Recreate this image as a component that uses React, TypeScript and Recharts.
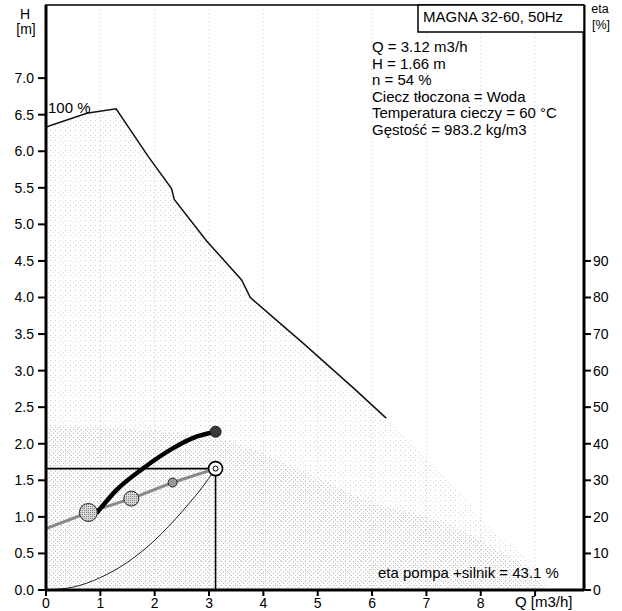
import { ComposedChart, Line, Area, XAxis, YAxis, CartesianGrid } from "recharts";

const FONT = "'Liberation Sans', Arial, sans-serif";

// axis ticks
const Q_TICKS = [0, 1, 2, 3, 4, 5, 6, 7, 8, 9];
const H_TICKS = [0, 0.5, 1, 1.5, 2, 2.5, 3, 3.5, 4, 4.5, 5, 5.5, 6, 6.5, 7];
const ETA_TICKS = [0, 10, 20, 30, 40, 50, 60, 70, 80, 90];

// max speed curve (100 %)
const maxQ = [0, 0.75, 1.29, 1.88, 2.31, 2.36, 2.96, 3.6, 3.76, 4.74, 5.66, 6.26];
const maxH = [6.33, 6.52, 6.58, 5.93, 5.49, 5.34, 4.77, 4.24, 4.0, 3.37, 2.76, 2.35];

// lower-right edge of the operating range
const edgeQ = [6.7, 7.38, 8.3, 8.97, 9.25];
const edgeH = [2.05, 1.5, 0.78, 0.37, 0];

// denser lower band
const bandQ = [0, 3, 4.5, 6, 7.4, 8.3, 9.0, 9.2];
const bandH = [2.25, 2.1, 1.7, 1.2, 0.9, 0.55, 0.2, 0];

// working curve at n = 54 %
const workQ = [0, 0.78, 1.57, 2.33, 3.12];
const workH = [0.84, 1.06, 1.25, 1.47, 1.66];

// markers on working curve
const markQ = [0.78, 1.57, 2.33];
const markH = [1.06, 1.25, 1.47];

// efficiency pump + motor (right axis)
const etaQ = [0.93, 1.3, 1.79, 2.34, 2.78, 3.12];
const etaV = [21, 27.4, 33.3, 38.8, 42, 43.3];

// system curve
const sysQ = [0, 0.5, 1, 1.5, 2, 2.5, 3, 3.12];
const sysH = [0, 0.04, 0.17, 0.38, 0.68, 1.07, 1.53, 1.66];

// duty point
const dutyQ = 3.12;
const dutyH = 1.66;

const infoLines = [
  "Q = 3.12 m3/h",
  "H = 1.66 m",
  "n = 54 %",
  "Ciecz tłoczona = Woda",
  "Temperatura cieczy = 60 °C",
  "Gęstość = 983.2 kg/m3",
];

const zip = (qs: number[], vs: number[], key = "h") =>
  qs.map((q, i) => ({ q, [key]: vs[i] }));

const shadeData = zip([...maxQ, ...edgeQ], [...maxH, ...edgeH]);
const bandData = zip(bandQ, bandH);
const maxData = zip(maxQ, maxH);
const workData = zip(workQ, workH);
const markData = zip(markQ, markH);
const etaData = zip(etaQ, etaV, "eta");
const sysData = zip(sysQ, sysH);
const dutyLines = zip([0, dutyQ, dutyQ], [dutyH, dutyH, 0]);
const dutyPoint = zip([dutyQ], [dutyH]);
const etaEnd = zip([etaQ[etaQ.length - 1]], [etaV[etaV.length - 1]], "eta");

const markRadius = [9, 7.5, 4.5];

const tickStyle = { fontSize: 14, fill: "#000", fontFamily: FONT };

export default function App() {
  return (
    <div
      style={{
        position: "absolute",
        left: 0,
        top: 0,
        width: 622,
        height: 611,
        background: "#fff",
      }}
    >
      <ComposedChart
        width={622}
        height={611}
        margin={{ top: 5, right: 0, bottom: 0, left: 0 }}
      >
        <defs>
          <pattern id="stipLight" width="5" height="5" patternUnits="userSpaceOnUse">
            <rect x="0" y="0" width="1" height="1" fill="#cfcfcf" />
            <rect x="3" y="2" width="1" height="1" fill="#dedede" />
          </pattern>
          <pattern id="stipDense" width="4" height="4" patternUnits="userSpaceOnUse">
            <rect x="1" y="1" width="1" height="1" fill="#bdbdbd" />
            <rect x="3" y="3" width="1" height="1" fill="#d2d2d2" />
          </pattern>
          <pattern id="stipMark" width="2" height="2" patternUnits="userSpaceOnUse">
            <rect width="2" height="2" fill="#d8d8d8" />
            <rect x="0" y="0" width="1" height="1" fill="#808080" />
          </pattern>
        </defs>
        <CartesianGrid stroke="#cccccc" strokeDasharray="1 3" />
        <XAxis
          dataKey="q"
          type="number"
          domain={[0, 9.9]}
          ticks={Q_TICKS}
          tickFormatter={(v: number) => (v === 9 ? "" : String(v))}
          allowDataOverflow
          height={21}
          tick={tickStyle}
          tickSize={6}
          tickMargin={2}
          axisLine={{ stroke: "#000", strokeWidth: 3 }}
          tickLine={{ stroke: "#000", strokeWidth: 2 }}
        />
        <YAxis
          yAxisId="left"
          type="number"
          domain={[0, 8]}
          ticks={H_TICKS}
          tickFormatter={(v: number) => v.toFixed(1)}
          allowDataOverflow
          width={46}
          tick={tickStyle}
          tickSize={8}
          tickMargin={4}
          axisLine={{ stroke: "#000", strokeWidth: 3 }}
          tickLine={{ stroke: "#000", strokeWidth: 2 }}
        />
        <YAxis
          yAxisId="right"
          orientation="right"
          type="number"
          domain={[0, 160]}
          ticks={ETA_TICKS}
          allowDataOverflow
          width={38}
          tick={tickStyle}
          tickSize={7}
          tickMargin={2}
          axisLine={{ stroke: "#000", strokeWidth: 3 }}
          tickLine={{ stroke: "#000", strokeWidth: 2 }}
        />
        <Area
          data={shadeData}
          dataKey="h"
          yAxisId="left"
          type="linear"
          stroke="none"
          fill="url(#stipLight)"
          fillOpacity={1}
          isAnimationActive={false}
        />
        <Area
          data={bandData}
          dataKey="h"
          yAxisId="left"
          type="monotone"
          stroke="none"
          fill="url(#stipDense)"
          fillOpacity={1}
          isAnimationActive={false}
        />
        <Line
          data={maxData}
          dataKey="h"
          yAxisId="left"
          type="linear"
          stroke="#111"
          strokeWidth={1.5}
          dot={false}
          isAnimationActive={false}
        />
        <Line
          data={sysData}
          dataKey="h"
          yAxisId="left"
          type="monotone"
          stroke="#222"
          strokeWidth={1}
          dot={false}
          isAnimationActive={false}
        />
        <Line
          data={dutyLines}
          dataKey="h"
          yAxisId="left"
          type="linear"
          stroke="#000"
          strokeWidth={1.6}
          dot={false}
          isAnimationActive={false}
        />
        <Line
          data={workData}
          dataKey="h"
          yAxisId="left"
          type="linear"
          stroke="#8a8a8a"
          strokeWidth={3}
          dot={false}
          isAnimationActive={false}
        />
        <Line
          data={markData}
          dataKey="h"
          yAxisId="left"
          stroke="none"
          isAnimationActive={false}
          dot={(p: any) => (
            <circle
              key={`m${p.index}`}
              cx={p.cx}
              cy={p.cy}
              r={markRadius[p.index]}
              fill={p.index < 2 ? "url(#stipMark)" : "#9a9a9a"}
              stroke="#222"
              strokeWidth={1}
            />
          )}
        />
        <Line
          data={etaData}
          dataKey="eta"
          yAxisId="right"
          type="monotone"
          stroke="#000"
          strokeWidth={4.5}
          dot={false}
          isAnimationActive={false}
        />
        <Line
          data={etaEnd}
          dataKey="eta"
          yAxisId="right"
          stroke="none"
          isAnimationActive={false}
          dot={(p: any) => (
            <circle
              key={`e${p.index}`}
              cx={p.cx}
              cy={p.cy}
              r={5.5}
              fill="#3a3a3a"
              stroke="#111"
              strokeWidth={1}
            />
          )}
        />
        <Line
          data={dutyPoint}
          dataKey="h"
          yAxisId="left"
          stroke="none"
          isAnimationActive={false}
          dot={(p: any) => (
            <g key={`d${p.index}`}>
              <circle cx={p.cx} cy={p.cy} r={7} fill="#fff" stroke="#000" strokeWidth={1.6} />
              <circle cx={p.cx} cy={p.cy} r={2.5} fill="#fff" stroke="#000" strokeWidth={1} />
            </g>
          )}
        />
      </ComposedChart>

      <svg
        width={622}
        height={611}
        style={{ position: "absolute", left: 0, top: 0, pointerEvents: "none" }}
        fontFamily={FONT}
        fill="#000"
      >
        <line x1={45} y1={5} x2={584} y2={5} stroke="#000" strokeWidth={1.5} />
        <text x={25} y={19} fontSize={14} textAnchor="middle">H</text>
        <text x={26} y={34} fontSize={14} textAnchor="middle">[m]</text>
        <text x={600} y={13} fontSize={12.5} textAnchor="middle">eta</text>
        <text x={601} y={29} fontSize={12.5} textAnchor="middle">[%]</text>
        <rect x={418} y={5} width={166} height={27} fill="#fff" stroke="#000" strokeWidth={1.5} />
        <text x={423} y={22} fontSize={15}>MAGNA 32-60, 50Hz</text>
        {infoLines.map((t, i) => (
          <text key={t} x={372} y={52 + i * 16.5} fontSize={15}>
            {t}
          </text>
        ))}
        <text x={48} y={113} fontSize={15}>100 %</text>
        <text x={378} y={578} fontSize={15}>eta pompa +silnik = 43.1 %</text>
        <text x={515} y={607} fontSize={15}>Q [m3/h]</text>
      </svg>
    </div>
  );
}
